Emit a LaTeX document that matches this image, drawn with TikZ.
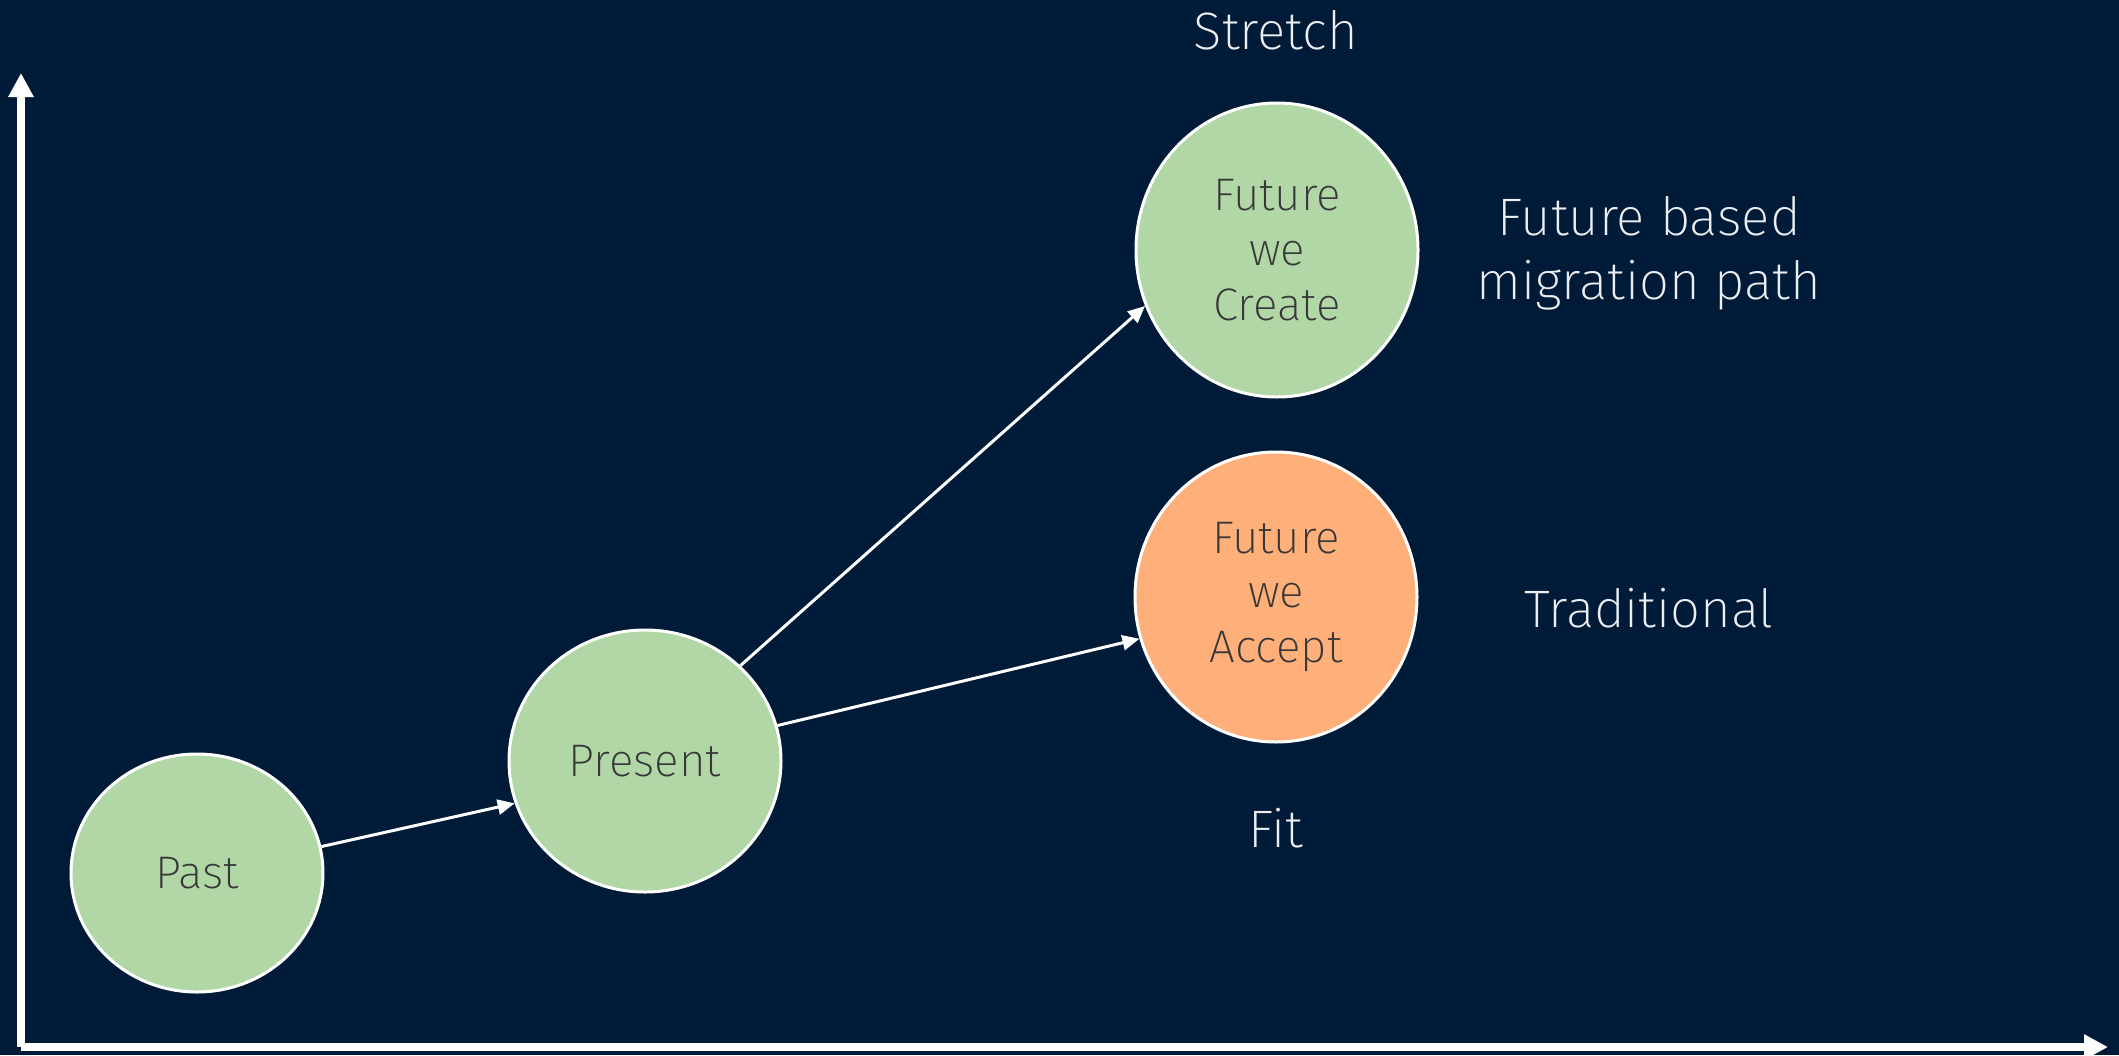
\documentclass[tikz,border=0pt]{standalone}
\usepackage{xcolor}
\usepackage{fontspec}
\IfFontExistsTF{Fira Sans ExtraLight}{\setmainfont{Fira Sans ExtraLight}}{\setmainfont{Fira Sans Light}}
\usepackage{tikz}
\usetikzlibrary{arrows.meta,shapes.geometric}

\definecolor{navy}{RGB}{0,27,56}
\definecolor{leaf}{RGB}{177,215,167}
\definecolor{peach}{RGB}{255,176,122}
\definecolor{ink}{RGB}{55,55,55}
\definecolor{pale}{RGB}{236,238,242}

\begin{document}
\begin{tikzpicture}[
    axis/.style={white, line width=2.3pt, -{Triangle[length=0.24cm,width=0.24cm]}},
    stage/.style={ellipse, draw=white, line width=0.85pt, text=ink, align=center,
      font=\fontsize{13pt}{15.6pt}\selectfont},
    link/.style={white, line width=0.85pt, -{Triangle[length=0.17cm,width=0.15cm]}},
    tag/.style={text=pale, align=center, font=\fontsize{15pt}{18.2pt}\selectfont}
  ]
      \fill[navy] (0,0) rectangle (21.19,10.55);
      \useasboundingbox (0,0) rectangle (21.19,10.55);

      % Axes
      \coordinate (origin) at (0.21,0.08);
      \coordinate (ytip) at (0.21,9.82);
      \coordinate (xtip) at (21.08,0.08);
      \draw[axis] (origin) -- (ytip);
      \draw[axis] (origin) -- (xtip);

      % Stages
      \node[stage, fill=leaf, minimum width=2.52cm, minimum height=2.38cm] (past) at (1.97,1.82) {Past};
      \node[stage, fill=leaf, minimum width=2.72cm, minimum height=2.62cm] (present) at (6.45,2.94) {Present};
      \node[stage, fill=leaf, minimum width=2.82cm, minimum height=2.94cm] (create) at (12.77,8.05) {Future\\we\\Create};
      \node[stage, fill=peach, minimum width=2.82cm, minimum height=2.90cm] (accept) at (12.76,4.58) {Future\\we\\Accept};

      \draw[link] (past.12.5) -- (present.198.6);
      \draw[link] (present.45.6) -- (create.203.6);
      \draw[link] (present.15.6) -- (accept.197.7);

      % Labels
      \node[tag, anchor=base] (stretch) at (12.76,10.06) {Stretch};
      \node[tag, anchor=base] (fit) at (12.76,2.08) {Fit};
      \node[tag] (migration) at (16.49,8.02) {Future based\\migration path};
      \node[tag, anchor=base] (traditional) at (16.49,4.28) {Traditional};
    \end{tikzpicture}
\end{document}
